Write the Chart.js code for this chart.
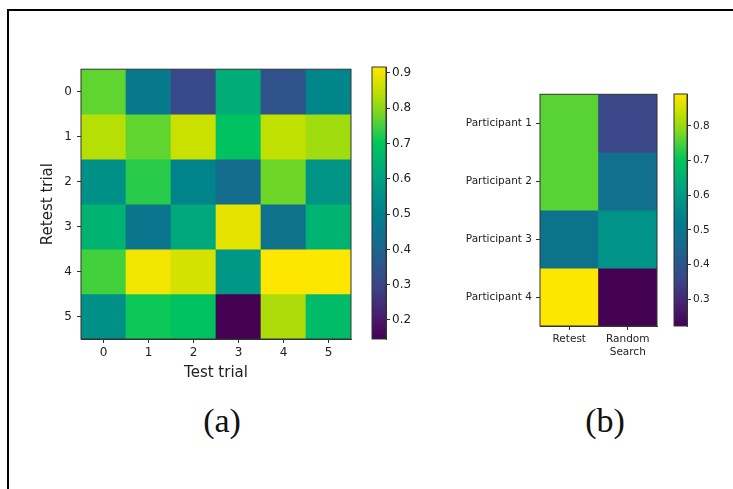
<!DOCTYPE html>
<html>
<head>
<meta charset="utf-8">
<script src="https://cdn.jsdelivr.net/npm/chart.js@4.4.0/dist/chart.umd.min.js"></script>
<style>
  html, body { margin: 0; padding: 0; background: #fff; }
  body { width: 733px; height: 489px; position: relative; overflow: hidden; }
  .frame { position: absolute; left: 7px; top: 9px; width: 760px; height: 520px;
           border-top: 2px solid #000; border-left: 2px solid #000; }
  .box { position: absolute; }
  .panel { position: absolute; width: 100px; text-align: center; line-height: 34px;
           font-family: 'Liberation Serif', serif; font-size: 34px; color: #111; }
</style>
</head>
<body>
<div class="frame"></div>
<div class="box" style="left:20px;top:57px;width:341px;height:340px"><canvas id="heatA"></canvas></div>
<div class="box" style="left:360px;top:57px;width:60px;height:340px"><canvas id="barA"></canvas></div>
<div class="box" style="left:440px;top:84px;width:227px;height:290px"><canvas id="heatB"></canvas></div>
<div class="box" style="left:662px;top:84px;width:71px;height:290px"><canvas id="barB"></canvas></div>
<div class="panel" style="left:172px;top:404px">(a)</div>
<div class="panel" style="left:555px;top:404px">(b)</div>
<script>
// panel (a): test/retest trial similarity
const testTrials = ['0', '1', '2', '3', '4', '5'];
const retestTrials = ['0', '1', '2', '3', '4', '5'];
const trialScores = [
    [0.77, 0.48, 0.31, 0.63, 0.34, 0.52],
    [0.84, 0.77, 0.86, 0.69, 0.85, 0.82],
    [0.55, 0.73, 0.51, 0.43, 0.78, 0.56],
    [0.65, 0.46, 0.62, 0.89, 0.45, 0.65],
    [0.75, 0.905, 0.87, 0.57, 0.917, 0.917],
    [0.55, 0.71, 0.69, 0.146, 0.83, 0.67],
];
const barTicksA = [0.2, 0.3, 0.4, 0.5, 0.6, 0.7, 0.8, 0.9];

// panel (b): per participant
const participants = ['Participant 1', 'Participant 2', 'Participant 3', 'Participant 4'];
const methods = ['Retest', ['Random', 'Search']];
const retestScores = [0.76, 0.76, 0.49, 0.892];
const randomScores = [0.36, 0.48, 0.58, 0.223];
const barTicksB = [0.3, 0.4, 0.5, 0.6, 0.7, 0.8];

// viridis-like colormap, as it shows in the picture
const cmapStops = [
    [0.00, '#440154'], [0.07, '#48186c'], [0.20, '#3b4689'], [0.33, '#1c658e'],
    [0.46, '#00808c'], [0.59, '#00a184'], [0.72, '#00c65c'], [0.80, '#55d335'],
    [0.85, '#8ed915'], [0.92, '#c6e100'], [1.00, '#fde600'],
];

const hexRgb = h => [1, 3, 5].map(i => parseInt(h.slice(i, i + 2), 16));

const viridis = t => {
    t = Math.max(0, Math.min(1, t));
    for (let i = 1; i < cmapStops.length; i++) {
        const [t1, c1] = cmapStops[i];
        if (t <= t1) {
            const [t0, c0] = cmapStops[i - 1];
            const f = (t - t0) / (t1 - t0);
            const a = hexRgb(c0), b = hexRgb(c1);
            return `rgb(${a.map((v, k) => Math.round(v + (b[k] - v) * f)).join(',')})`;
        }
    }
    return cmapStops[cmapStops.length - 1][1];
};

Chart.defaults.font.family = "'DejaVu Sans', sans-serif";
Chart.defaults.color = '#222';
Chart.defaults.animation = false;
Chart.defaults.responsive = true;
Chart.defaults.maintainAspectRatio = false;
Chart.defaults.plugins.legend.display = false;
Chart.defaults.plugins.tooltip.enabled = false;

const outline = {
    id: 'outline',
    afterDatasetsDraw(chart) {
        const {ctx, chartArea: a} = chart;
        ctx.save();
        ctx.strokeStyle = '#333';
        ctx.lineWidth = 1;
        ctx.strokeRect(a.left, a.top, a.right - a.left, a.bottom - a.top);
        ctx.restore();
    }
};

const heatmap = (id, colLabels, rowLabels, rows, opt) => {
    const all = rows.flat();
    const vmin = Math.min(...all), vmax = Math.max(...all);
    const datasets = rows.map((row, r) => ({
        data: row.map(() => [r - 0.5, r + 0.5]),
        backgroundColor: row.map(v => viridis((v - vmin) / (vmax - vmin))),
        grouped: false,
        barPercentage: 1,
        categoryPercentage: 1,
        borderWidth: 0,
    }));
    return new Chart(document.getElementById(id), {
        type: 'bar',
        data: {labels: colLabels, datasets},
        options: {
            layout: {padding: opt.padding},
            scales: {
                x: {
                    grid: {offset: false, drawOnChartArea: false, tickLength: 4, color: '#333'},
                    border: {color: '#333'},
                    ticks: {font: {size: opt.xFont}, padding: opt.xPad, autoSkip: false, maxRotation: 0},
                    title: opt.xTitle ? {display: true, text: opt.xTitle, font: {size: 15},
                        padding: {top: 0, bottom: opt.xTitlePad}} : {display: false},
                    afterFit: s => { s.height = opt.xHeight; },
                },
                y: {
                    type: 'linear',
                    reverse: true,
                    min: -0.5,
                    max: rowLabels.length - 0.5,
                    afterBuildTicks: s => { s.ticks = rowLabels.map((_, i) => ({value: i})); },
                    grid: {drawOnChartArea: false, tickLength: 4, color: '#333'},
                    border: {color: '#333'},
                    ticks: {callback: v => rowLabels[v], font: {size: opt.yFont}, padding: opt.yPad},
                    title: opt.yTitle ? {display: true, text: opt.yTitle, font: {size: 15},
                        padding: {top: opt.yTitlePad, bottom: 0}} : {display: false},
                    afterFit: s => { s.width = opt.yWidth; },
                },
            },
        },
        plugins: [outline],
    });
};

const colorbar = (id, values, tickValues, opt) => {
    const vmin = Math.min(...values), vmax = Math.max(...values);
    const gradient = chart => {
        const y = chart.scales.y;
        const y0 = y && y.getPixelForValue(vmin), y1 = y && y.getPixelForValue(vmax);
        if (!Number.isFinite(y0) || !Number.isFinite(y1) || y0 === y1) return cmapStops[5][1];
        const g = chart.ctx.createLinearGradient(0, y0, 0, y1);
        cmapStops.forEach(([t, c]) => g.addColorStop(t, c));
        return g;
    };
    return new Chart(document.getElementById(id), {
        type: 'bar',
        data: {
            labels: [''],
            datasets: [{
                data: [[vmin, vmax]],
                backgroundColor: ctx => gradient(ctx.chart),
                barPercentage: 1,
                categoryPercentage: 1,
                borderWidth: 0,
            }],
        },
        options: {
            layout: {padding: opt.padding},
            scales: {
                x: {display: false},
                y: {
                    position: 'right',
                    min: vmin,
                    max: vmax,
                    afterBuildTicks: s => { s.ticks = tickValues.map(v => ({value: v})); },
                    grid: {drawOnChartArea: false, tickLength: 4, color: '#333'},
                    border: {color: '#333'},
                    ticks: {callback: v => v.toFixed(1), font: {size: opt.font}, padding: 2},
                    afterFit: s => { s.width = opt.width; },
                },
            },
        },
        plugins: [outline],
    });
};

heatmap('heatA', testTrials, retestTrials, trialScores, {
    padding: {top: 10, right: 10, left: 0, bottom: 0},
    xFont: 12, xPad: 3, xHeight: 58, xTitle: 'Test trial', xTitlePad: 15,
    yFont: 12, yPad: 5, yWidth: 61, yTitle: 'Retest trial', yTitlePad: 19,
});
colorbar('barA', trialScores.flat(), barTicksA, {
    padding: {top: 10, right: 0, left: 12, bottom: 58}, width: 34, font: 12,
});

const participantRows = participants.map((_, i) => [retestScores[i], randomScores[i]]);
heatmap('heatB', methods, participants, participantRows, {
    padding: {top: 10, right: 10, left: 0, bottom: 0},
    xFont: 10.5, xPad: 3, xHeight: 48,
    yFont: 10.5, yPad: 4, yWidth: 100,
});
colorbar('barB', participantRows.flat(), barTicksB, {
    padding: {top: 10, right: 0, left: 12, bottom: 48}, width: 46, font: 10.5,
});
</script>
</body>
</html>
